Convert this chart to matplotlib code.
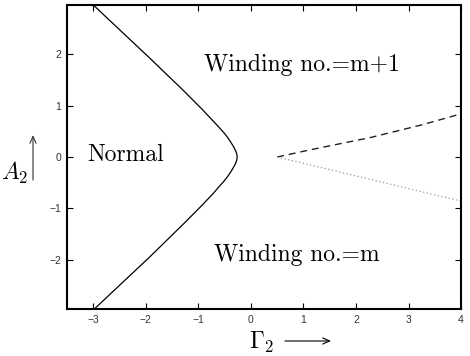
import matplotlib
matplotlib.use("Agg")
import matplotlib.pyplot as plt

# boundary curve, top to bottom
curve_x = [-3.00, -2.45, -1.93, -1.29, -0.93, -0.70, -0.60, -0.52, -0.45, -0.39, -0.33,
           -0.29, -0.27, -0.26,
           -0.27, -0.29, -0.33, -0.39, -0.45, -0.52, -0.60, -0.70, -0.93, -1.29, -1.93,
           -2.45, -2.98]
curve_y = [2.96, 2.43, 1.93, 1.30, 0.93, 0.68, 0.57, 0.48, 0.39, 0.30, 0.20,
           0.12, 0.06, 0.0,
           -0.06, -0.12, -0.20, -0.30, -0.39, -0.48, -0.57, -0.69, -0.94, -1.31, -1.95,
           -2.45, -2.96]

# dashed branch
dash_x = [0.5, 1.13, 2.28, 3.23, 4.0]
dash_y = [0.0, 0.14, 0.38, 0.62, 0.84]

# dotted branch
dot_x = [0.5, 2.25, 4.0]
dot_y = [0.0, -0.43, -0.86]

xticks = [-3, -2, -1, 0, 1, 2, 3, 4]
yticks = [-2, -1, 0, 1, 2]

plt.rcParams['mathtext.fontset'] = 'cm'

fig = plt.figure(figsize=(4.7, 3.56), dpi=100)
ax = fig.add_axes([0.1426, 0.132, 0.981 - 0.1426, 0.986 - 0.132])

ax.plot(curve_x, curve_y, color='black', lw=0.9)
ax.plot(dash_x, dash_y, color='#222222', lw=1.0, dashes=(5, 3.5))
ax.plot(dot_x, dot_y, color='#999999', lw=0.9, linestyle=(0, (1, 2)))

ax.set_xlim(-3.5, 4)
ax.set_ylim(-2.96, 2.96)
ax.set_xticks(xticks)
ax.set_yticks(yticks)
ax.set_xticklabels([str(t).replace('-', '\u2212') for t in xticks])
ax.set_yticklabels([str(t).replace('-', '\u2212') for t in yticks])
ax.tick_params(direction='in', length=4, width=0.8, top=True, right=True,
               labelsize=7.5, labelcolor='#333333', pad=4)
for lab in ax.get_xticklabels() + ax.get_yticklabels():
    lab.set_fontfamily('Liberation Sans')
for s in ax.spines.values():
    s.set_linewidth(1.5)

fs = 17
ax.text(0.98, 1.8, 'Winding no.=m+1', family='cmr10', fontsize=fs,
        ha='center', va='center')
ax.text(0.87, -1.91, 'Winding no.=m', family='cmr10', fontsize=fs,
        ha='center', va='center')
ax.text(-2.39, 0.04, 'Normal', family='cmr10', fontsize=fs,
        ha='center', va='center')

# axis labels with arrows
fig.text(262 / 470, 1 - 342 / 356, r'$\Gamma_2$', fontsize=17,
         ha='center', va='center')
fig.add_artist(matplotlib.patches.FancyArrowPatch(
    (285 / 470, 1 - 341 / 356), (331 / 470, 1 - 341 / 356),
    transform=fig.transFigure, arrowstyle='->,head_length=5,head_width=2.2',
    lw=0.8, color='black', shrinkA=0, shrinkB=0))
fig.text(1 / 470, 1 - 173 / 356, r'$A_2$', fontsize=17,
         ha='left', va='center')
fig.add_artist(matplotlib.patches.FancyArrowPatch(
    (33 / 470, 1 - 180 / 356), (33 / 470, 1 - 135 / 356),
    transform=fig.transFigure, arrowstyle='->,head_length=5,head_width=2.2',
    lw=0.8, color='#333333', shrinkA=0, shrinkB=0))

fig.savefig('out.png', dpi=100)
